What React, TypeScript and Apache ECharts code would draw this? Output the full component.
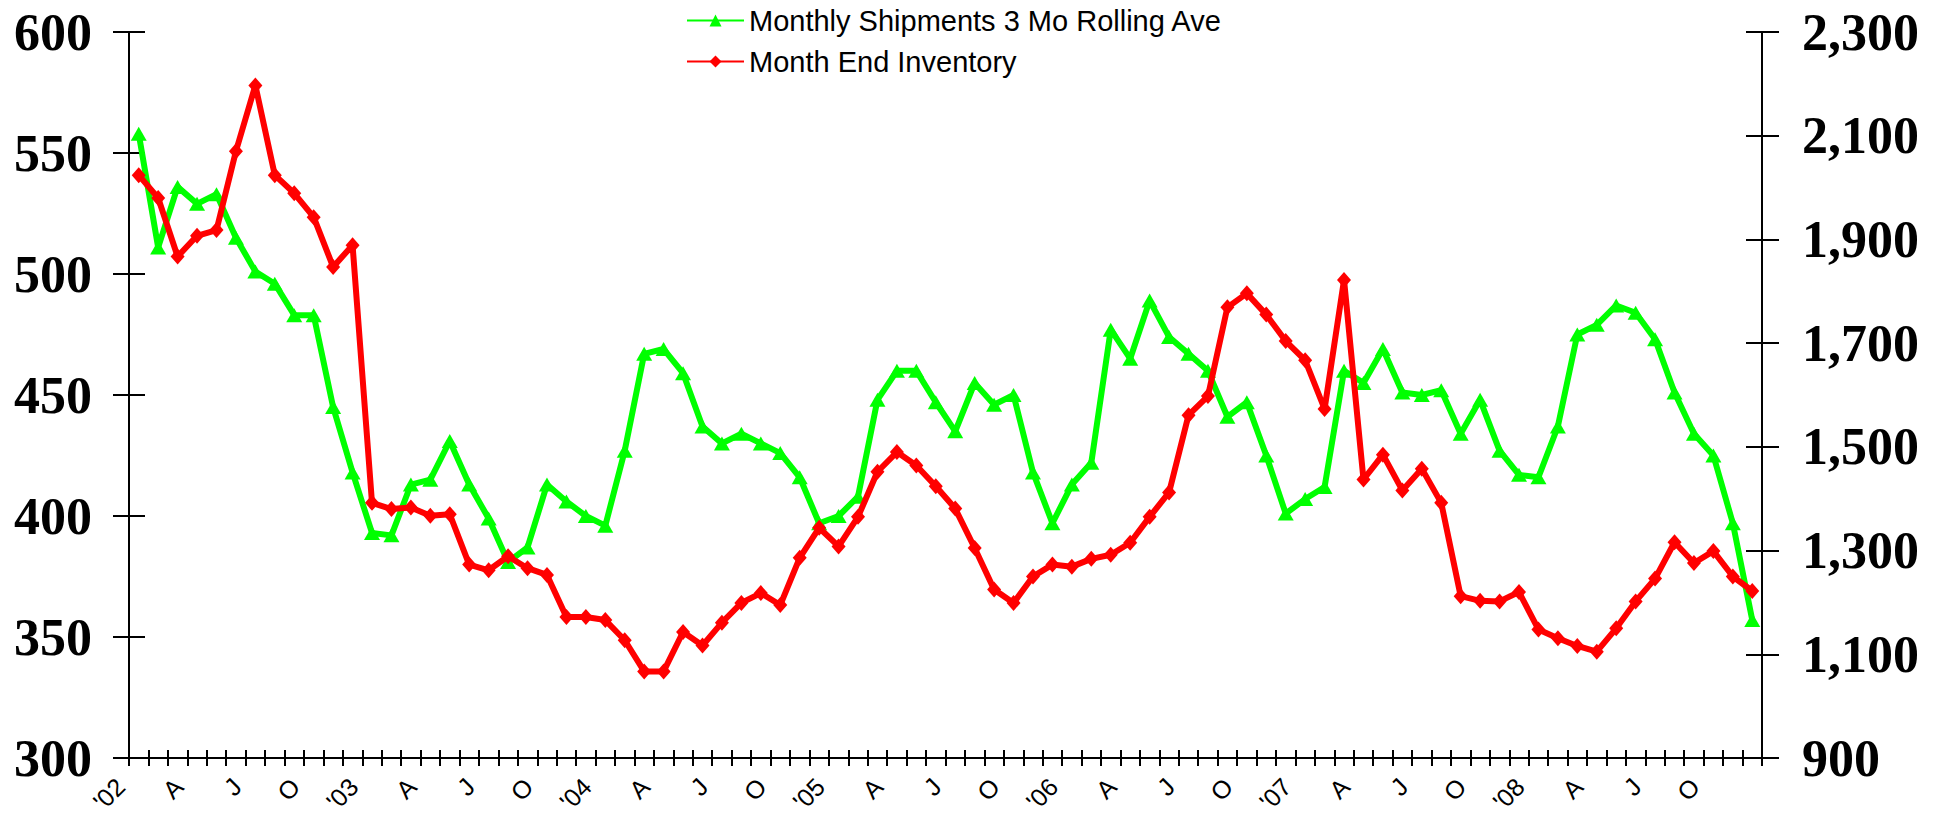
import React, { useEffect, useRef } from "react";
import * as echarts from "echarts";

const yearLabels = ["'02", "'03", "'04", "'05", "'06", "'07", "'08"];
const monthInitials = ["F", "M", "A", "M", "J", "J", "A", "S", "O", "N", "D"];
const categories: string[] = yearLabels.flatMap((y) => [y, ...monthInitials]);

const shipments = [
  558, 511, 536, 529, 533, 515, 501, 496, 483, 483, 445, 418,
  393, 392, 413, 415, 431, 413, 399, 381, 387, 413, 406, 400,
  396, 427, 467, 469, 459, 437, 430, 434, 430, 426, 416, 397,
  400, 408, 448, 460, 460, 447, 435, 455, 446, 450, 418, 397,
  413, 422, 477, 465, 489, 474, 467, 460, 441, 447, 425, 401,
  407, 412, 460, 455, 469, 451, 450, 452, 434, 448, 427, 417,
  416, 437, 475, 479, 487, 484, 473, 451, 434, 425, 397, 357,
];

const inventory = [
  2024, 1980, 1867, 1907, 1918, 2070, 2197, 2024, 1989, 1943, 1847, 1889,
  1392, 1380, 1383, 1367, 1370, 1273, 1262, 1289, 1266, 1253, 1172, 1172,
  1166, 1127, 1067, 1067, 1143, 1117, 1161, 1199, 1218, 1195, 1286, 1344,
  1308, 1365, 1452, 1490, 1464, 1424, 1381, 1305, 1225, 1199, 1250, 1273,
  1269, 1284, 1292, 1315, 1365, 1412, 1561, 1598, 1769, 1796, 1755, 1704,
  1667, 1573, 1822, 1437, 1485, 1416, 1458, 1392, 1212, 1203, 1202, 1220,
  1148, 1131, 1116, 1105, 1150, 1202, 1246, 1316, 1276, 1299, 1250, 1222,
];

const seriesNames = ["Monthly Shipments 3 Mo Rolling Ave", "Month End Inventory"];

const leftAxis = { min: 300, max: 600, interval: 50 };
const rightAxis = { min: 900, max: 2300, interval: 200 };

const serifFont = "'Liberation Serif', 'Times New Roman', serif";
const sansFont = "'Liberation Sans', Arial, sans-serif";

export default function App() {
  const ref = useRef<HTMLDivElement>(null);

  useEffect(() => {
    if (!ref.current) return;
    const chart = echarts.init(ref.current, null, { renderer: "svg" });

    const axisLineStyle = { color: "#000", width: 2 };
    const yLabel = {
      fontFamily: serifFont,
      fontWeight: "bold" as const,
      fontSize: 52,
      color: "#000",
    };

    chart.setOption({
      animation: false,
      backgroundColor: "#fff",
      grid: { left: 129, right: 184, top: 32, bottom: 59, containLabel: false, outerBoundsMode: "none" },
      legend: {
        orient: "vertical",
        left: 686,
        top: 5,
        padding: 0,
        itemWidth: 57,
        itemHeight: 15,
        itemGap: 10,
        data: seriesNames,
        textStyle: { fontFamily: sansFont, fontSize: 29, lineHeight: 31, color: "#000" },
      },
      xAxis: [
        {
          type: "category",
          position: "bottom",
          data: categories,
          boundaryGap: true,
          axisLine: { show: true, onZero: false, lineStyle: axisLineStyle },
          axisTick: { show: true, interval: 0, inside: false, length: 8, lineStyle: axisLineStyle },
          axisLabel: {
            show: true,
            interval: (i: number) => i % 3 === 0,
            rotate: 45,
            margin: 6,
            padding: [0, 26, 0, 0],
            fontFamily: sansFont,
            fontSize: 25,
            overflow: "none",
            color: "#000",
          },
          splitLine: { show: false },
        },
        {
          type: "category",
          position: "bottom",
          data: categories,
          boundaryGap: true,
          axisLine: { show: false, onZero: false },
          axisTick: { show: true, interval: 0, inside: true, length: 8, lineStyle: axisLineStyle },
          axisLabel: { show: false },
          splitLine: { show: false },
        },
      ],
      yAxis: [
        {
          type: "value",
          position: "left",
          ...leftAxis,
          axisLine: { show: true, lineStyle: axisLineStyle },
          axisTick: { show: true, inside: false, length: 16, lineStyle: axisLineStyle },
          axisLabel: { ...yLabel, margin: 37 },
          splitLine: { show: false },
        },
        {
          type: "value",
          position: "right",
          ...rightAxis,
          axisLine: { show: true, lineStyle: axisLineStyle },
          axisTick: { show: true, inside: false, length: 17, lineStyle: axisLineStyle },
          axisLabel: {
            ...yLabel,
            margin: 40,
            formatter: (v: number) => v.toLocaleString("en-US"),
          },
          splitLine: { show: false },
        },
        {
          type: "value",
          position: "left",
          ...leftAxis,
          axisLine: { show: false },
          axisTick: { show: true, inside: true, length: 16, lineStyle: axisLineStyle },
          axisLabel: { show: false },
          splitLine: { show: false },
        },
        {
          type: "value",
          position: "right",
          ...rightAxis,
          axisLine: { show: false },
          axisTick: { show: true, inside: true, length: 16, lineStyle: axisLineStyle },
          axisLabel: { show: false },
          splitLine: { show: false },
        },
      ],
      series: [
        {
          name: seriesNames[0],
          type: "line",
          xAxisIndex: 0,
          yAxisIndex: 0,
          data: shipments,
          symbol: "triangle",
          symbolSize: [16, 14],
          showAllSymbol: true,
          lineStyle: { color: "#00FF00", width: 6 },
          itemStyle: { color: "#00FF00" },
          z: 3,
        },
        {
          name: seriesNames[1],
          type: "line",
          xAxisIndex: 0,
          yAxisIndex: 1,
          data: inventory,
          symbol: "diamond",
          symbolSize: [14, 16],
          showAllSymbol: true,
          lineStyle: { color: "#FF0000", width: 6 },
          itemStyle: { color: "#FF0000" },
          z: 4,
        },
      ],
    });

    return () => chart.dispose();
  }, []);

  return (
    <div
      ref={ref}
      style={{ position: "absolute", left: 0, top: 0, width: 1946, height: 817, background: "#fff" }}
    />
  );
}
